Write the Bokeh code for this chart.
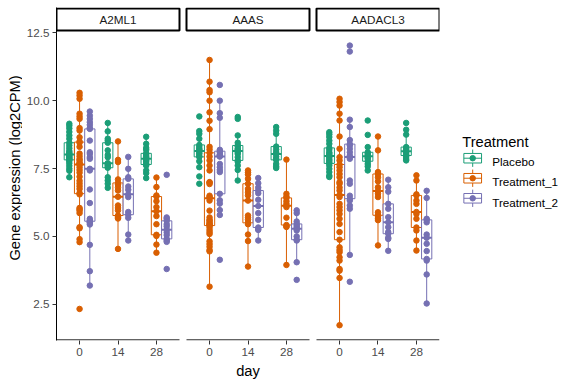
import numpy as np
from bokeh.plotting import figure
from bokeh.models import ColumnDataSource, Range1d, FixedTicker
from bokeh.layouts import row
from bokeh.embed import file_html
from bokeh.resources import INLINE
from bokeh.core.properties import value

genes = ["A2ML1", "AAAS", "AADACL3"]
days = ["0", "14", "28"]
treatments = ["Placebo", "Treatment_1", "Treatment_2"]
palette = ["#1B9E77", "#D95F02", "#7570B3"]
y_ticks = [2.5, 5.0, 7.5, 10.0, 12.5]
y_tick_labels = ["2.5", "5.0", "7.5", "10.0", "12.5"]

# log2CPM values, one list per gene / day / treatment arm
a2ml1_d0_placebo = [9.15, 9.08, 8.98, 8.85, 8.72, 8.60, 8.45, 8.35, 8.25, 8.15, 8.10, 8.05, 8.02,
                    8.00, 7.95, 7.92, 7.88, 7.85, 7.82, 7.78, 7.70, 7.60, 7.50, 7.42, 7.18]
a2ml1_d0_t1 = [10.29, 10.19, 10.07, 9.52, 9.42, 9.33, 8.99, 8.90, 8.65, 8.50, 8.45, 8.30, 8.05,
               7.95, 7.85, 7.80, 7.72, 7.68, 7.66, 7.65, 7.55, 7.45, 7.35, 7.20, 7.05, 6.95,
               6.85, 6.75, 6.60, 6.55, 6.05, 6.00, 5.95, 5.86, 5.34, 5.30, 4.90, 4.79, 2.33]
a2ml1_d0_t2 = [9.60, 9.45, 9.33, 9.21, 9.11, 9.00, 8.96, 8.53, 8.10, 8.04, 7.92, 7.86, 7.49,
               7.43, 6.73, 6.23, 5.65, 5.59, 5.56, 5.52, 5.50, 5.44, 4.69, 3.72, 3.19]
a2ml1_d14_placebo = [9.18, 8.87, 8.60, 8.53, 8.45, 8.17, 8.00, 7.92, 7.70, 7.65, 7.61, 7.56,
                     7.53, 7.18, 7.06, 6.94, 6.79]
a2ml1_d14_t1 = [8.50, 7.82, 7.74, 7.10, 6.97, 6.91, 6.81, 6.69, 6.46, 6.14, 6.05, 5.96, 5.77,
                5.74, 5.70, 5.66, 4.54]
a2ml1_d14_t2 = [7.93, 7.49, 7.18, 7.12, 6.84, 6.72, 6.55, 6.45, 5.90, 5.80, 5.685, 5.07, 4.85]
a2ml1_d28_placebo = [8.67, 8.41, 8.26, 8.19, 8.06, 8.00, 7.94, 7.90, 7.86, 7.80, 7.77, 7.70,
                     7.65, 7.61, 7.43, 7.33, 7.15]
a2ml1_d28_t1 = [7.17, 6.82, 6.51, 6.47, 6.30, 6.08, 5.93, 5.75, 5.45, 5.06, 5.02, 4.70, 4.40]
a2ml1_d28_t2 = [7.27, 5.70, 5.65, 5.575, 5.45, 5.37, 5.25, 5.15, 5.05, 4.91, 4.85, 4.80, 3.80]

aaas_d0_placebo = [9.42, 8.88, 8.78, 8.60, 8.37, 8.30, 8.23, 8.20, 8.15, 8.08, 8.04, 7.96, 7.93,
                   7.77, 7.55, 7.21, 6.94]
aaas_d0_t1 = [11.50, 10.70, 10.39, 10.31, 10.00, 9.57, 9.26, 8.95, 8.30, 8.20, 8.08, 7.94, 7.80,
              7.61, 7.43, 7.00, 6.99, 6.93, 6.50, 6.45, 6.41, 6.32, 5.95, 5.70, 5.61, 5.58,
              5.52, 5.47, 5.44, 5.42, 5.40, 5.33, 5.24, 5.16, 5.09, 4.82, 4.72, 4.62, 4.50,
              4.45, 3.15]
aaas_d0_t2 = [10.58, 10.00, 9.54, 9.37, 8.19, 8.14, 8.10, 8.02, 7.99, 7.96, 7.94, 7.67, 7.55,
              7.45, 7.37, 6.57, 6.33, 6.21, 5.97, 5.79, 4.14]
aaas_d14_placebo = [9.40, 9.33, 8.72, 8.45, 8.35, 8.31, 8.23, 8.20, 8.15, 8.10, 8.04, 7.92,
                    7.80, 7.75, 7.61, 7.45, 7.06]
aaas_d14_t1 = [7.43, 7.35, 7.28, 7.12, 6.94, 6.75, 6.63, 6.51, 6.32, 5.77, 5.70, 5.62, 5.50,
               5.45, 5.07, 4.83, 3.89]
aaas_d14_t2 = [7.15, 6.96, 6.80, 6.69, 6.59, 6.35, 6.12, 5.86, 5.61, 5.33, 5.28, 5.24, 4.85]
aaas_d28_placebo = [9.03, 8.90, 8.78, 8.31, 8.20, 8.10, 8.04, 7.94, 7.86, 7.82, 7.67, 7.58, 7.52]
aaas_d28_t1 = [7.83, 6.57, 6.47, 6.42, 6.30, 6.20, 6.13, 6.08, 5.69, 5.42, 5.37, 5.35, 3.95]
aaas_d28_t2 = [5.96, 5.86, 5.55, 5.46, 5.40, 5.34, 5.28, 5.22, 5.00, 4.88, 4.85, 4.05, 3.40]

aadacl3_d0_placebo = [8.84, 8.76, 8.66, 8.53, 8.41, 8.26, 8.19, 8.10, 8.05, 8.00, 7.96, 7.92,
                      7.85, 7.80, 7.74, 7.69, 7.61, 7.49, 7.37, 7.24, 7.19]
aadacl3_d0_t1 = [10.07, 9.95, 9.82, 9.52, 9.27, 8.68, 8.23, 7.92, 7.80, 7.65, 7.55, 7.43, 7.30,
                 7.18, 7.00, 6.94, 6.80, 6.69, 6.53, 6.45, 6.20, 6.08, 5.96, 5.83, 5.65, 5.46,
                 5.16, 4.88, 4.60, 4.50, 4.42, 4.23, 4.11, 3.80, 3.74, 3.47, 1.73]
aadacl3_d0_t2 = [12.03, 11.81, 9.30, 9.03, 8.55, 8.40, 8.35, 8.23, 8.10, 7.98, 7.93, 7.86, 7.06,
                 6.94, 6.50, 6.39, 6.32, 6.14, 6.02, 4.32, 3.33]
aadacl3_d14_placebo = [9.27, 8.74, 8.29, 8.10, 8.05, 8.00, 7.95, 7.90, 7.86, 7.77, 7.67, 7.58, 7.43]
aadacl3_d14_t1 = [8.68, 8.17, 7.37, 7.33, 7.30, 7.18, 7.03, 6.81, 6.67, 6.57, 6.45, 5.89, 5.78,
                  5.72, 5.65, 5.60, 4.67]
aadacl3_d14_t2 = [7.09, 6.81, 6.65, 6.20, 6.02, 5.71, 5.52, 5.34, 5.16, 5.10, 4.95, 4.91, 4.47]
aadacl3_d28_placebo = [9.18, 8.93, 8.75, 8.29, 8.25, 8.20, 8.14, 8.08, 8.02, 7.98, 7.93, 7.85, 7.80]
aadacl3_d28_t1 = [7.25, 7.06, 6.55, 6.51, 6.32, 6.20, 5.90, 5.83, 5.65, 5.33, 5.22, 4.85, 4.48]
aadacl3_d28_t2 = [6.68, 6.42, 5.65, 5.61, 5.52, 5.07, 4.95, 4.73, 4.46, 4.17, 4.11, 3.60, 2.53]

groups = {
    "A2ML1": [[a2ml1_d0_placebo, a2ml1_d0_t1, a2ml1_d0_t2],
              [a2ml1_d14_placebo, a2ml1_d14_t1, a2ml1_d14_t2],
              [a2ml1_d28_placebo, a2ml1_d28_t1, a2ml1_d28_t2]],
    "AAAS": [[aaas_d0_placebo, aaas_d0_t1, aaas_d0_t2],
             [aaas_d14_placebo, aaas_d14_t1, aaas_d14_t2],
             [aaas_d28_placebo, aaas_d28_t1, aaas_d28_t2]],
    "AADACL3": [[aadacl3_d0_placebo, aadacl3_d0_t1, aadacl3_d0_t2],
                [aadacl3_d14_placebo, aadacl3_d14_t1, aadacl3_d14_t2],
                [aadacl3_d28_placebo, aadacl3_d28_t1, aadacl3_d28_t2]],
}

# ---- layout constants -------------------------------------------------------
FONT = "Liberation Sans"
PANEL_STEP = 3.382          # width of one facet (3.2) plus the gap between facets
DODGE = 0.8 / 3             # offset between the three arms on one day
BOX_W = 0.8 / 3
X0, X1 = 0.4, 2 * PANEL_STEP + 3.6
Y0, Y1 = 1.167, 13.432
STRIP_BOTTOM, STRIP_TOP = 12.585, 13.395
AXIS_Y = Y0 + 0.022
H = 384
TITLE_W, MAIN_W, LEG_W = 22, 423, 131

# ---- build glyph tables -----------------------------------------------------
pts = dict(x=[], y=[], color=[])
box = dict(x=[], left=[], right=[], q1=[], q3=[], med=[], lo=[], hi=[], color=[])
tick_pos, tick_lab = [], []

for g, gene in enumerate(genes):
    for d, day in enumerate(days):
        xc = g * PANEL_STEP + d + 1
        tick_pos.append(xc)
        tick_lab.append(day)
        for t in range(len(treatments)):
            vals = np.array(groups[gene][d][t], dtype=float)
            x = xc + (t - 1) * DODGE
            q1, med, q3 = np.percentile(vals, [25, 50, 75])
            iqr = q3 - q1
            lo = vals[vals >= q1 - 1.5 * iqr].min()
            hi = vals[vals <= q3 + 1.5 * iqr].max()
            box["x"].append(x)
            box["left"].append(x - BOX_W / 2)
            box["right"].append(x + BOX_W / 2)
            box["q1"].append(q1)
            box["q3"].append(q3)
            box["med"].append(med)
            box["lo"].append(lo)
            box["hi"].append(hi)
            box["color"].append(palette[t])
            pts["x"].extend([x] * len(vals))
            pts["y"].extend(vals.tolist())
            pts["color"].extend([palette[t]] * len(vals))

box_src = ColumnDataSource(box)
pts_src = ColumnDataSource(pts)

strip_src = ColumnDataSource(dict(
    left=[g * PANEL_STEP + 0.4 for g in range(len(genes))],
    right=[g * PANEL_STEP + 3.6 for g in range(len(genes))],
    xc=[g * PANEL_STEP + 2.0 for g in range(len(genes))],
    label=genes,
))


def blank(width):
    f = figure(width=width, height=H, x_range=Range1d(0, width), y_range=Range1d(0, H),
               toolbar_location=None, output_backend="svg", x_axis_type=None,
               y_axis_type=None, min_border=0)
    f.outline_line_color = None
    f.xgrid.visible = False
    f.ygrid.visible = False
    return f


# ---- y title strip (centred on the facet panels) ------------------------------
ttl = blank(TITLE_W)
ttl.text(x=[14.0], y=[H - 185.0], text=["Gene expression (log2CPM)"], angle=np.pi / 2,
         text_align="center", text_baseline="middle", text_font=value(FONT),
         text_font_size="14.7px", text_color="black")

# ---- main facetted plot -----------------------------------------------------
p = figure(width=MAIN_W, height=H, x_range=Range1d(X0, X1), y_range=Range1d(Y0, Y1),
           toolbar_location=None, output_backend="svg",
           min_border_left=56 - TITLE_W, min_border_right=6, min_border_top=7,
           min_border_bottom=44)
p.background_fill_color = "white"
p.border_fill_color = "white"
p.outline_line_color = None
p.xgrid.visible = False
p.ygrid.visible = False

# whiskers, boxes, medians
p.segment(x0="x", y0="lo", x1="x", y1="q1", line_color="color", line_width=1, source=box_src)
p.segment(x0="x", y0="q3", x1="x", y1="hi", line_color="color", line_width=1, source=box_src)
p.quad(left="left", right="right", bottom="q1", top="q3", fill_color="white",
       line_color="color", line_width=1, source=box_src)
p.segment(x0="left", y0="med", x1="right", y1="med", line_color="color", line_width=2,
          source=box_src)
# individual samples
p.scatter(x="x", y="y", size=5.5, fill_color="color", line_color="color", source=pts_src)

# facet strips
p.quad(left="left", right="right", bottom=STRIP_BOTTOM, top=STRIP_TOP, fill_color="white",
       line_color="black", line_width=2, source=strip_src)
p.text(x="xc", y=(STRIP_BOTTOM + STRIP_TOP) / 2, text="label", source=strip_src,
       text_align="center", text_baseline="middle", text_font=value(FONT),
       text_font_size="11.7px", text_color="#1A1A1A")

# per-facet x axis lines
p.segment(x0="left", y0=AXIS_Y, x1="right", y1=AXIS_Y, line_color="black", line_width=1,
          source=strip_src)

xa = p.xaxis[0]
xa.ticker = FixedTicker(ticks=tick_pos)
xa.major_label_overrides = {pos: lab for pos, lab in zip(tick_pos, tick_lab)}
xa.axis_line_color = None
xa.axis_label = "day"

ya = p.yaxis[0]
ya.ticker = FixedTicker(ticks=y_ticks)
ya.major_label_overrides = {v: s for v, s in zip(y_ticks, y_tick_labels)}
ya.axis_line_color = "black"
ya.axis_line_width = 1

for ax in (xa, ya):
    ax.minor_tick_line_color = None
    ax.major_tick_in = 0
    ax.major_tick_out = 4
    ax.major_tick_line_color = "#333333"
    ax.major_label_text_font = FONT
    ax.major_label_text_font_size = "11.7px"
    ax.major_label_text_color = "#4D4D4D"
    ax.major_label_standoff = 3
    ax.axis_label_text_font = FONT
    ax.axis_label_text_font_size = "14.7px"
    ax.axis_label_text_font_style = "normal"
    ax.axis_label_text_color = "black"
xa.axis_label_standoff = 4

# ---- legend panel -----------------------------------------------------------
leg = blank(LEG_W)
KEY_X, KEY_W, KEY_H, WHISK = 27.2, 17.7, 11.0, 10.0
ROW0, ROW_STEP = 173.8, 23.1
key_y = [H - (ROW0 + i * ROW_STEP) for i in range(len(treatments))]
key_src = ColumnDataSource(dict(
    x=[KEY_X] * len(treatments), y=key_y, color=palette, label=treatments,
    left=[KEY_X - KEY_W / 2] * len(treatments), right=[KEY_X + KEY_W / 2] * len(treatments),
    top=[v + KEY_H / 2 for v in key_y], bottom=[v - KEY_H / 2 for v in key_y],
    wtop=[v + WHISK for v in key_y], wbot=[v - WHISK for v in key_y],
    ty=[v - 4.3 for v in key_y],
))
leg.segment(x0="x", y0="wtop", x1="x", y1="wbot", line_color="color", line_width=1,
            source=key_src)
leg.quad(left="left", right="right", top="top", bottom="bottom", fill_color="white",
         line_color="color", line_width=1, source=key_src)
leg.segment(x0="left", y0="y", x1="right", y1="y", line_color="color", line_width=1,
            source=key_src)
leg.scatter(x="x", y="y", size=5.5, fill_color="color", line_color="color", source=key_src)
leg.text(x=46.7, y="ty", text="label", source=key_src, text_align="left",
         text_baseline="alphabetic", text_font=value(FONT), text_font_size="11.7px",
         text_color="black")
leg.text(x=[16.7], y=[H - 155.0], text=["Treatment"], text_align="left",
         text_baseline="alphabetic", text_font=value(FONT), text_font_size="14.7px",
         text_color="black")

layout = row(ttl, p, leg)
open("out.html", "w").write(file_html(layout, INLINE))
